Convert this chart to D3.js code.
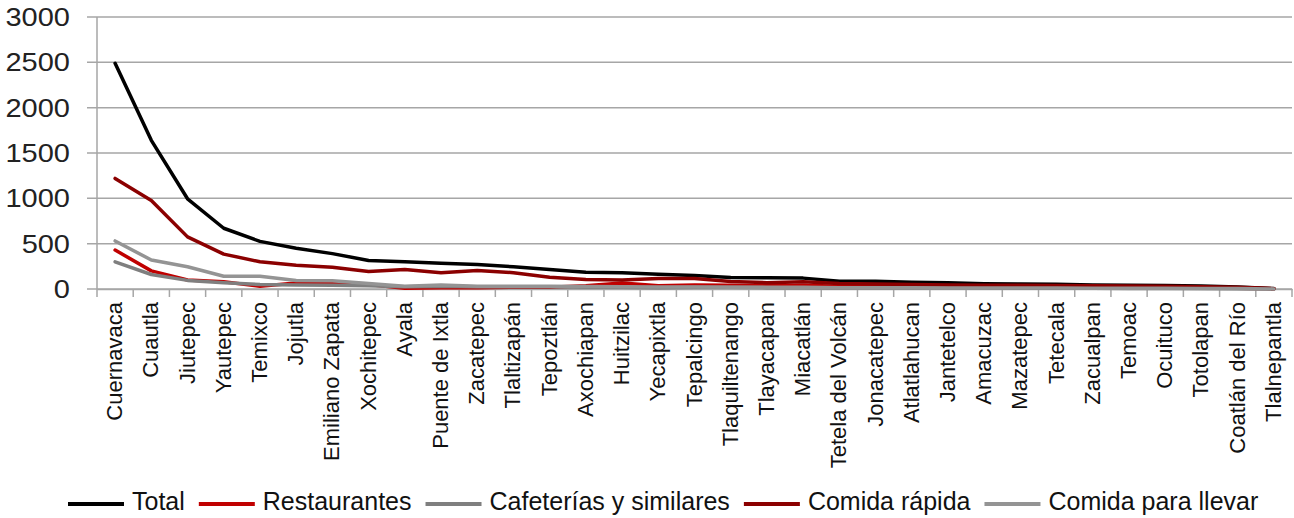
<!DOCTYPE html>
<html><head><meta charset="utf-8">
<script src="https://cdn.jsdelivr.net/npm/d3@7"></script>
<style>body{margin:0;background:#fff}svg{display:block}</style>
</head><body>
<svg id="c" width="1294" height="518"></svg>
<script>
const categories = ["Cuernavaca","Cuautla","Jiutepec","Yautepec","Temixco","Jojutla","Emiliano Zapata","Xochitepec","Ayala","Puente de Ixtla","Zacatepec","Tlaltizapán","Tepoztlán","Axochiapan","Huitzilac","Yecapixtla","Tepalcingo","Tlaquiltenango","Tlayacapan","Miacatlán","Tetela del Volcán","Jonacatepec","Atlatlahucan","Jantetelco","Amacuzac","Mazatepec","Tetecala","Zacualpan","Temoac","Ocuituco","Totolapan","Coatlán del Río","Tlalnepantla"];
const total = [2490,1640,995,670,525,450,390,315,300,285,270,245,215,185,180,162,150,128,125,120,85,85,75,68,58,55,52,45,40,38,32,22,5];
const restaurantes = [430,200,100,80,30,65,70,50,8,15,15,20,20,35,65,35,45,40,35,40,30,25,25,20,20,20,18,15,15,12,10,8,3];
const cafeterias = [300,160,95,70,50,45,40,35,25,30,25,25,25,20,20,15,20,18,15,15,12,12,10,10,10,8,8,8,6,6,5,4,1];
const comidaRapida = [1220,975,575,385,300,262,240,192,215,180,205,180,130,105,100,115,115,82,70,80,60,55,50,45,42,40,38,35,32,30,25,20,4];
const comidaLlevar = [530,320,245,140,140,95,90,60,30,45,30,30,30,28,25,22,22,20,18,18,15,15,14,12,12,10,10,9,8,8,6,5,1];
const seriesNames = ["Total","Restaurantes","Cafeterías y similares","Comida rápida","Comida para llevar"];
const seriesValues = [total, restaurantes, cafeterias, comidaRapida, comidaLlevar];
const seriesColors = ["#000000","#c00000","#7f7f7f","#8b0000","#949494"];
const yTicks = [0,500,1000,1500,2000,2500,3000];

const svg = d3.select("#c");
const L = 97, R = 1292, T = 17, B = 289;
const x = d3.scaleBand().domain(categories).range([L, R]);
const y = d3.scaleLinear().domain([0, 3000]).range([B, T]);

// gridlines
svg.append("g").selectAll("line").data(yTicks).join("line")
  .attr("x1", L - 10).attr("x2", R).attr("y1", d => y(d)).attr("y2", d => y(d))
  .attr("stroke", "#a6a6a6").attr("stroke-width", 1.5);

// y axis labels (slightly widened glyphs)
svg.append("g").selectAll("text").data(yTicks).join("text")
  .attr("transform", d => `translate(70,${y(d)}) scale(1.16,1)`)
  .attr("dy", "0.36em")
  .attr("text-anchor", "end")
  .attr("font-family", "Liberation Sans, Arial, sans-serif").attr("font-size", 25)
  .attr("fill", "#222").text(d => d);

// y axis line
svg.append("line").attr("x1", L).attr("x2", L).attr("y1", T).attr("y2", B)
  .attr("stroke", "#a6a6a6").attr("stroke-width", 1.5);

// x axis
const xAxis = d3.axisBottom(x).tickSize(0).tickFormat("");
const gx = svg.append("g").attr("transform", `translate(0,${B})`).call(xAxis);
gx.select(".domain").attr("stroke", "#a6a6a6").attr("stroke-width", 1.5);
const bounds = categories.map(c => x(c)).concat([R]);
svg.append("g").selectAll("line").data(bounds).join("line")
  .attr("x1", d => d).attr("x2", d => d).attr("y1", B).attr("y2", B + 8)
  .attr("stroke", "#a6a6a6").attr("stroke-width", 1.5);

// category labels
svg.append("g").selectAll("text").data(categories).join("text")
  .attr("transform", d => `translate(${x(d) + x.bandwidth() / 2 + 7},${B + 13}) rotate(-90)`)
  .attr("text-anchor", "end")
  .attr("font-family", "Liberation Sans, Arial, sans-serif").attr("font-size", 22)
  .attr("fill", "#111").text(d => d);

// lines
const line = d3.line().x((d, i) => x(categories[i]) + x.bandwidth() / 2).y(d => y(d));
seriesValues.forEach((vals, k) => {
  svg.append("path").datum(vals).attr("d", line)
    .attr("fill", "none").attr("stroke", seriesColors[k]).attr("stroke-width", 3.5)
    .attr("stroke-linejoin", "round").attr("stroke-linecap", "round");
});

// legend
const lg = svg.append("g");
let lx = 68;
const ly = 501;
seriesNames.forEach((n, k) => {
  lg.append("line").attr("x1", lx).attr("x2", lx + 56).attr("y1", ly + 3).attr("y2", ly + 3)
    .attr("stroke", seriesColors[k]).attr("stroke-width", 4);
  const t = lg.append("text").attr("x", lx + 64).attr("y", ly)
    .attr("dy", "0.35em")
    .attr("font-family", "Liberation Sans, Arial, sans-serif").attr("font-size", 25)
    .attr("fill", "#111").text(n);
  lx += 64 + t.node().getComputedTextLength() + 14;
});
</script>
</body></html>
